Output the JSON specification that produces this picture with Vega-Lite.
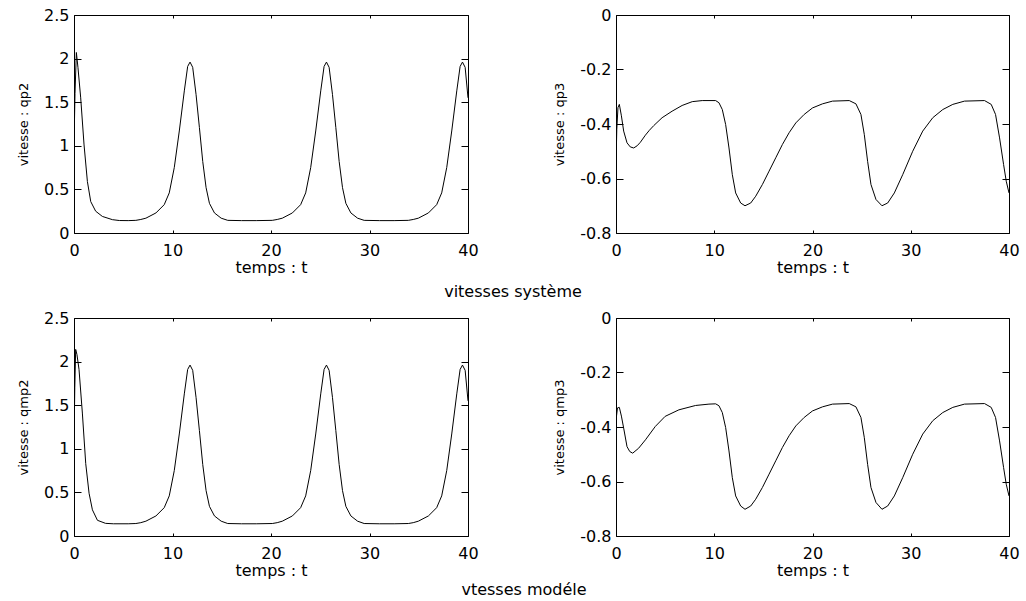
{
  "$schema": "https://vega.github.io/schema/vega-lite/v6.json",
  "padding": {"left": 16, "top": 6, "right": 5, "bottom": 2},
  "background": "white",
  "config": {
    "font": "DejaVu Sans",
    "view": {"stroke": "black", "strokeWidth": 1},
    "axis": {
      "grid": false, "domain": false,
      "labelFont": "DejaVu Sans", "labelFontSize": 16, "labelColor": "black",
      "titleFont": "DejaVu Sans", "titleFontWeight": "normal", "titleColor": "black",
      "tickColor": "black", "tickWidth": 1,
      "labelFlush": false, "labelOverlap": false
    },
    "title": {"font": "DejaVu Sans", "fontSize": 16, "fontWeight": "normal", "color": "black"}
  },
  "datasets": {
    "qp2": [
      {"t":0,"v":1.0},{"t":0.1,"v":1.6},{"t":0.24,"v":2.07},{"t":0.4,"v":1.9},{"t":0.68,"v":1.55},{"t":1.02,"v":1.01},{"t":1.36,"v":0.59},{"t":1.7,"v":0.36},{"t":2.2,"v":0.25},{"t":2.88,"v":0.19},{"t":3.9,"v":0.153},{"t":4.6,"v":0.143},{"t":5.5,"v":0.142},{"t":6.28,"v":0.145},{"t":6.78,"v":0.155},{"t":7.3,"v":0.17},{"t":8.32,"v":0.23},{"t":9.16,"v":0.325},{"t":9.67,"v":0.46},{"t":10.18,"v":0.75},{"t":10.69,"v":1.17},{"t":11.2,"v":1.63},{"t":11.54,"v":1.91},{"t":11.78,"v":1.96},{"t":12.05,"v":1.9},{"t":12.39,"v":1.59},{"t":12.73,"v":1.21},{"t":13.07,"v":0.82},{"t":13.41,"v":0.52},{"t":13.75,"v":0.34},{"t":14.26,"v":0.23},{"t":14.94,"v":0.17},{"t":15.61,"v":0.145},{"t":17.0,"v":0.142},{"t":18.5,"v":0.142},{"t":20.13,"v":0.145},{"t":20.63,"v":0.155},{"t":21.15,"v":0.17},{"t":22.17,"v":0.23},{"t":23.01,"v":0.325},{"t":23.52,"v":0.46},{"t":24.03,"v":0.75},{"t":24.54,"v":1.17},{"t":25.05,"v":1.63},{"t":25.39,"v":1.91},{"t":25.63,"v":1.96},{"t":25.9,"v":1.9},{"t":26.24,"v":1.59},{"t":26.58,"v":1.21},{"t":26.92,"v":0.82},{"t":27.26,"v":0.52},{"t":27.6,"v":0.34},{"t":28.11,"v":0.23},{"t":28.79,"v":0.17},{"t":29.46,"v":0.145},{"t":31.0,"v":0.142},{"t":32.5,"v":0.142},{"t":33.94,"v":0.145},{"t":34.44,"v":0.155},{"t":34.96,"v":0.17},{"t":35.98,"v":0.23},{"t":36.82,"v":0.325},{"t":37.33,"v":0.46},{"t":37.84,"v":0.75},{"t":38.35,"v":1.17},{"t":38.86,"v":1.63},{"t":39.2,"v":1.91},{"t":39.44,"v":1.96},{"t":39.71,"v":1.9},{"t":40,"v":1.55}
    ],
    "qmp2": [
      {"t":0,"v":1.05},{"t":0.08,"v":1.7},{"t":0.17,"v":2.14},{"t":0.3,"v":2.08},{"t":0.51,"v":1.91},{"t":0.85,"v":1.41},{"t":1.19,"v":0.83},{"t":1.53,"v":0.49},{"t":1.87,"v":0.3},{"t":2.38,"v":0.18},{"t":3.2,"v":0.145},{"t":4.0,"v":0.14},{"t":5.5,"v":0.14},{"t":6.28,"v":0.143},{"t":6.78,"v":0.153},{"t":7.3,"v":0.17},{"t":8.32,"v":0.23},{"t":9.16,"v":0.325},{"t":9.67,"v":0.46},{"t":10.18,"v":0.75},{"t":10.69,"v":1.17},{"t":11.2,"v":1.63},{"t":11.54,"v":1.91},{"t":11.78,"v":1.96},{"t":12.05,"v":1.9},{"t":12.39,"v":1.59},{"t":12.73,"v":1.21},{"t":13.07,"v":0.82},{"t":13.41,"v":0.52},{"t":13.75,"v":0.34},{"t":14.26,"v":0.23},{"t":14.94,"v":0.17},{"t":15.61,"v":0.143},{"t":17.0,"v":0.14},{"t":18.5,"v":0.14},{"t":20.13,"v":0.143},{"t":20.63,"v":0.153},{"t":21.15,"v":0.17},{"t":22.17,"v":0.23},{"t":23.01,"v":0.325},{"t":23.52,"v":0.46},{"t":24.03,"v":0.75},{"t":24.54,"v":1.17},{"t":25.05,"v":1.63},{"t":25.39,"v":1.91},{"t":25.63,"v":1.96},{"t":25.9,"v":1.9},{"t":26.24,"v":1.59},{"t":26.58,"v":1.21},{"t":26.92,"v":0.82},{"t":27.26,"v":0.52},{"t":27.6,"v":0.34},{"t":28.11,"v":0.23},{"t":28.79,"v":0.17},{"t":29.46,"v":0.143},{"t":31.0,"v":0.14},{"t":32.5,"v":0.14},{"t":33.94,"v":0.143},{"t":34.44,"v":0.153},{"t":34.96,"v":0.17},{"t":35.98,"v":0.23},{"t":36.82,"v":0.325},{"t":37.33,"v":0.46},{"t":37.84,"v":0.75},{"t":38.35,"v":1.17},{"t":38.86,"v":1.63},{"t":39.2,"v":1.91},{"t":39.44,"v":1.96},{"t":39.71,"v":1.9},{"t":40,"v":1.55}
    ],
    "qp3": [
      {"t":0,"v":-0.549},{"t":0.08,"v":-0.42},{"t":0.2,"v":-0.34},{"t":0.34,"v":-0.328},{"t":0.55,"v":-0.37},{"t":0.78,"v":-0.426},{"t":1.12,"v":-0.469},{"t":1.45,"v":-0.484},{"t":1.8,"v":-0.488},{"t":2.15,"v":-0.48},{"t":2.48,"v":-0.467},{"t":2.99,"v":-0.441},{"t":3.4,"v":-0.423},{"t":3.84,"v":-0.406},{"t":4.69,"v":-0.377},{"t":5.71,"v":-0.353},{"t":6.73,"v":-0.332},{"t":7.76,"v":-0.318},{"t":8.78,"v":-0.314},{"t":10.14,"v":-0.314},{"t":10.48,"v":-0.322},{"t":10.82,"v":-0.347},{"t":11.16,"v":-0.402},{"t":11.5,"v":-0.488},{"t":11.84,"v":-0.586},{"t":12.18,"v":-0.653},{"t":12.69,"v":-0.69},{"t":13.13,"v":-0.7},{"t":13.71,"v":-0.69},{"t":14.22,"v":-0.665},{"t":14.9,"v":-0.622},{"t":15.58,"v":-0.573},{"t":16.26,"v":-0.524},{"t":16.94,"v":-0.475},{"t":17.62,"v":-0.432},{"t":18.3,"v":-0.396},{"t":19.15,"v":-0.365},{"t":20.0,"v":-0.341},{"t":21.02,"v":-0.326},{"t":22.04,"v":-0.316},{"t":23.74,"v":-0.314},{"t":24.42,"v":-0.326},{"t":24.93,"v":-0.365},{"t":25.27,"v":-0.438},{"t":25.61,"v":-0.537},{"t":25.95,"v":-0.622},{"t":26.46,"v":-0.677},{"t":27.07,"v":-0.7},{"t":27.65,"v":-0.69},{"t":28.33,"v":-0.653},{"t":29.18,"v":-0.586},{"t":30.2,"v":-0.5},{"t":31.22,"v":-0.426},{"t":32.24,"v":-0.377},{"t":33.26,"v":-0.347},{"t":34.28,"v":-0.328},{"t":35.47,"v":-0.316},{"t":37.51,"v":-0.314},{"t":38.19,"v":-0.328},{"t":38.63,"v":-0.365},{"t":39.04,"v":-0.451},{"t":39.45,"v":-0.549},{"t":39.72,"v":-0.61},{"t":40,"v":-0.653}
    ],
    "qmp3": [
      {"t":0,"v":-0.404},{"t":0.05,"v":-0.36},{"t":0.15,"v":-0.33},{"t":0.34,"v":-0.328},{"t":0.55,"v":-0.36},{"t":0.78,"v":-0.404},{"t":1.12,"v":-0.472},{"t":1.4,"v":-0.49},{"t":1.7,"v":-0.496},{"t":2.3,"v":-0.478},{"t":3.0,"v":-0.447},{"t":4.0,"v":-0.398},{"t":5.0,"v":-0.361},{"t":6.4,"v":-0.337},{"t":8.1,"v":-0.321},{"t":9.46,"v":-0.316},{"t":10.14,"v":-0.315},{"t":10.48,"v":-0.322},{"t":10.82,"v":-0.347},{"t":11.16,"v":-0.402},{"t":11.5,"v":-0.488},{"t":11.84,"v":-0.586},{"t":12.18,"v":-0.653},{"t":12.69,"v":-0.69},{"t":13.13,"v":-0.702},{"t":13.71,"v":-0.69},{"t":14.22,"v":-0.665},{"t":14.9,"v":-0.622},{"t":15.58,"v":-0.573},{"t":16.26,"v":-0.524},{"t":16.94,"v":-0.475},{"t":17.62,"v":-0.432},{"t":18.3,"v":-0.396},{"t":19.15,"v":-0.365},{"t":20.0,"v":-0.341},{"t":21.02,"v":-0.326},{"t":22.04,"v":-0.316},{"t":23.74,"v":-0.314},{"t":24.42,"v":-0.326},{"t":24.93,"v":-0.365},{"t":25.27,"v":-0.438},{"t":25.61,"v":-0.537},{"t":25.95,"v":-0.622},{"t":26.46,"v":-0.677},{"t":27.07,"v":-0.702},{"t":27.65,"v":-0.69},{"t":28.33,"v":-0.653},{"t":29.18,"v":-0.586},{"t":30.2,"v":-0.5},{"t":31.22,"v":-0.426},{"t":32.24,"v":-0.377},{"t":33.26,"v":-0.347},{"t":34.28,"v":-0.328},{"t":35.47,"v":-0.316},{"t":37.51,"v":-0.314},{"t":38.19,"v":-0.328},{"t":38.63,"v":-0.365},{"t":39.04,"v":-0.451},{"t":39.45,"v":-0.549},{"t":39.72,"v":-0.61},{"t":40,"v":-0.653}
    ]
  },
  "columns": 2,
  "spacing": {"row": 85, "column": 148},
  "bounds": "flush",
  "concat": [
    {
      "width": 394, "height": 218,
      "data": {"name": "qp2"},
      "title": {"text": "vitesses système", "orient": "bottom", "frame": "group", "anchor": "end", "align": "center", "dx": 45, "offset": 9},
      "layer": [
        {
          "mark": {"type": "line", "color": "black", "strokeWidth": 1, "clip": true},
          "encoding": {
            "x": {"field": "t", "type": "quantitative", "scale": {"domain": [0, 40], "nice": false, "zero": false},
                  "axis": {"values": [0, 10, 20, 30, 40], "title": "temps : t", "titleFontSize": 16, "titleY": 34, "titleBaseline": "middle", "tickSize": -3, "labelPadding": 12, "labelExpr": "'' + datum.value"}},
            "y": {"field": "v", "type": "quantitative", "scale": {"domain": [0, 2.5], "nice": false, "zero": false},
                  "axis": {"values": [0, 0.5, 1, 1.5, 2, 2.5], "title": "vitesse : qp2", "titleFontSize": 13, "titleX": -44, "titleY": 109, "titleAngle": -90, "titleAlign": "center", "titleBaseline": "bottom", "tickSize": -7, "labelPadding": 12, "labelExpr": "'' + datum.value"}}
          }
        },
        {
          "mark": {"type": "line", "strokeOpacity": 0},
          "encoding": {
            "x": {"field": "t", "type": "quantitative", "axis": {"orient": "top", "values": [0, 10, 20, 30, 40], "labels": false, "title": null, "tickSize": -3}},
            "y": {"field": "v", "type": "quantitative", "axis": {"orient": "right", "values": [0, 0.5, 1, 1.5, 2, 2.5], "labels": false, "title": null, "tickSize": -7}}
          }
        }
      ],
      "resolve": {"axis": {"x": "independent", "y": "independent"}}
    },
    {
      "width": 393, "height": 218,
      "data": {"name": "qp3"},
      "layer": [
        {
          "mark": {"type": "line", "color": "black", "strokeWidth": 1, "clip": true},
          "encoding": {
            "x": {"field": "t", "type": "quantitative", "scale": {"domain": [0, 40], "nice": false, "zero": false},
                  "axis": {"values": [0, 10, 20, 30, 40], "title": "temps : t", "titleFontSize": 16, "titleY": 34, "titleBaseline": "middle", "tickSize": -3, "labelPadding": 12, "labelExpr": "'' + datum.value"}},
            "y": {"field": "v", "type": "quantitative", "scale": {"domain": [-0.8, 0], "nice": false, "zero": false},
                  "axis": {"values": [-0.8, -0.6, -0.4, -0.2, 0], "title": "vitesse : qp3", "titleFontSize": 13, "titleX": -50, "titleY": 109, "titleAngle": -90, "titleAlign": "center", "titleBaseline": "bottom", "tickSize": -7, "labelPadding": 12, "labelExpr": "'' + datum.value"}}
          }
        },
        {
          "mark": {"type": "line", "strokeOpacity": 0},
          "encoding": {
            "x": {"field": "t", "type": "quantitative", "axis": {"orient": "top", "values": [0, 10, 20, 30, 40], "labels": false, "title": null, "tickSize": -3}},
            "y": {"field": "v", "type": "quantitative", "axis": {"orient": "right", "values": [-0.8, -0.6, -0.4, -0.2, 0], "labels": false, "title": null, "tickSize": -7}}
          }
        }
      ],
      "resolve": {"axis": {"x": "independent", "y": "independent"}}
    },
    {
      "width": 394, "height": 218,
      "data": {"name": "qmp2"},
      "title": {"text": "vtesses modéle", "orient": "bottom", "frame": "group", "anchor": "end", "align": "center", "dx": 56, "offset": 4},
      "layer": [
        {
          "mark": {"type": "line", "color": "black", "strokeWidth": 1, "clip": true},
          "encoding": {
            "x": {"field": "t", "type": "quantitative", "scale": {"domain": [0, 40], "nice": false, "zero": false},
                  "axis": {"values": [0, 10, 20, 30, 40], "title": "temps : t", "titleFontSize": 16, "titleY": 34, "titleBaseline": "middle", "tickSize": -3, "labelPadding": 12, "labelExpr": "'' + datum.value"}},
            "y": {"field": "v", "type": "quantitative", "scale": {"domain": [0, 2.5], "nice": false, "zero": false},
                  "axis": {"values": [0, 0.5, 1, 1.5, 2, 2.5], "title": "vitesse : qmp2", "titleFontSize": 13, "titleX": -44, "titleY": 109, "titleAngle": -90, "titleAlign": "center", "titleBaseline": "bottom", "tickSize": -7, "labelPadding": 12, "labelExpr": "'' + datum.value"}}
          }
        },
        {
          "mark": {"type": "line", "strokeOpacity": 0},
          "encoding": {
            "x": {"field": "t", "type": "quantitative", "axis": {"orient": "top", "values": [0, 10, 20, 30, 40], "labels": false, "title": null, "tickSize": -3}},
            "y": {"field": "v", "type": "quantitative", "axis": {"orient": "right", "values": [0, 0.5, 1, 1.5, 2, 2.5], "labels": false, "title": null, "tickSize": -7}}
          }
        }
      ],
      "resolve": {"axis": {"x": "independent", "y": "independent"}}
    },
    {
      "width": 393, "height": 218,
      "data": {"name": "qmp3"},
      "layer": [
        {
          "mark": {"type": "line", "color": "black", "strokeWidth": 1, "clip": true},
          "encoding": {
            "x": {"field": "t", "type": "quantitative", "scale": {"domain": [0, 40], "nice": false, "zero": false},
                  "axis": {"values": [0, 10, 20, 30, 40], "title": "temps : t", "titleFontSize": 16, "titleY": 34, "titleBaseline": "middle", "tickSize": -3, "labelPadding": 12, "labelExpr": "'' + datum.value"}},
            "y": {"field": "v", "type": "quantitative", "scale": {"domain": [-0.8, 0], "nice": false, "zero": false},
                  "axis": {"values": [-0.8, -0.6, -0.4, -0.2, 0], "title": "vitesse : qmp3", "titleFontSize": 13, "titleX": -50, "titleY": 109, "titleAngle": -90, "titleAlign": "center", "titleBaseline": "bottom", "tickSize": -7, "labelPadding": 12, "labelExpr": "'' + datum.value"}}
          }
        },
        {
          "mark": {"type": "line", "strokeOpacity": 0},
          "encoding": {
            "x": {"field": "t", "type": "quantitative", "axis": {"orient": "top", "values": [0, 10, 20, 30, 40], "labels": false, "title": null, "tickSize": -3}},
            "y": {"field": "v", "type": "quantitative", "axis": {"orient": "right", "values": [-0.8, -0.6, -0.4, -0.2, 0], "labels": false, "title": null, "tickSize": -7}}
          }
        }
      ],
      "resolve": {"axis": {"x": "independent", "y": "independent"}}
    }
  ]
}
